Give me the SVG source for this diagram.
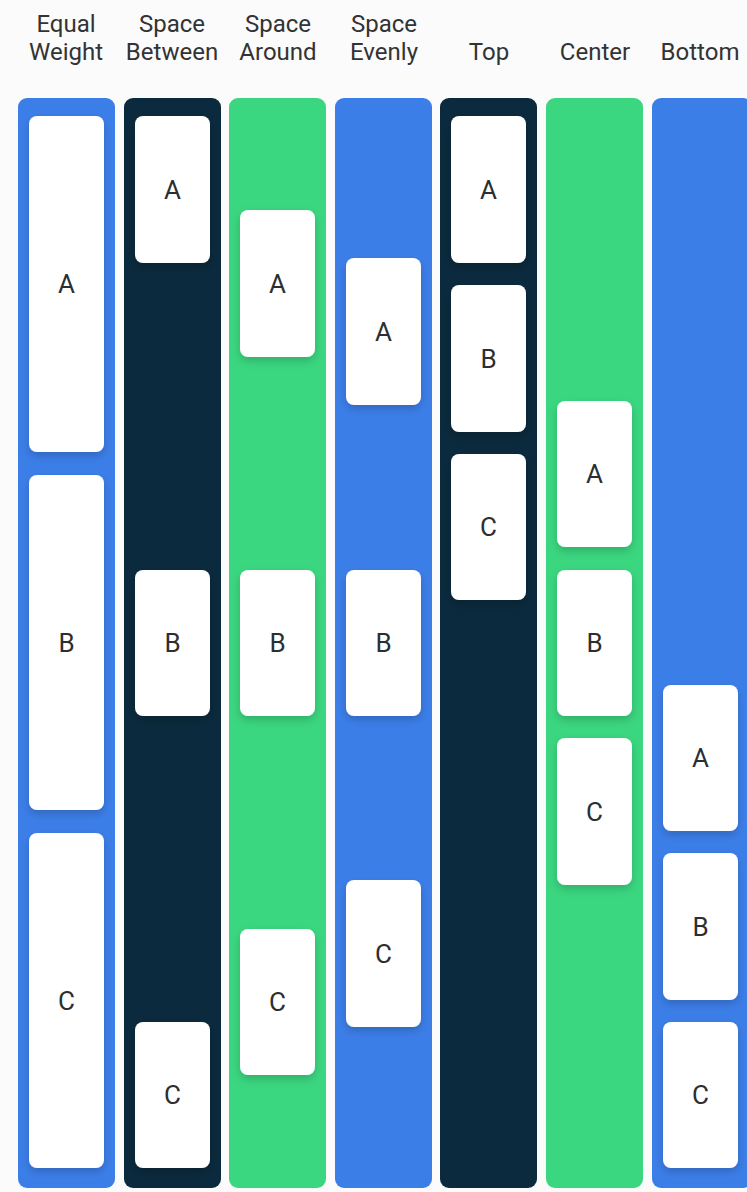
<svg xmlns="http://www.w3.org/2000/svg" width="747" height="1192" viewBox="0 0 747 1192">
<defs>
<style>
.hd{font-family:Roboto,"Liberation Sans",sans-serif;font-size:24px;fill:#333;text-anchor:middle}
.lb{font-family:Roboto,"Liberation Sans",sans-serif;font-size:26px;fill:#2a2f33;text-anchor:middle}
.card{fill:#ffffff}
.blue{fill:#3c7ee8}
.navy{fill:#0b2a3d}
.green{fill:#3bd680}
</style>
<filter id="sh" x="-30%" y="-20%" width="160%" height="150%">
<feDropShadow dx="0" dy="4" stdDeviation="4" flood-color="#000" flood-opacity="0.18"/>
</filter>
</defs>
<rect width="747" height="1192" fill="#fbfbfb"/>
<g id="headers">
<text class="hd" x="66" y="32">Equal</text><text class="hd" x="66" y="60">Weight</text>
<text class="hd" x="172" y="32">Space</text><text class="hd" x="172" y="60">Between</text>
<text class="hd" x="278" y="32">Space</text><text class="hd" x="278" y="60">Around</text>
<text class="hd" x="384" y="32">Space</text><text class="hd" x="384" y="60">Evenly</text>
<text class="hd" x="489" y="60">Top</text>
<text class="hd" x="595" y="60">Center</text>
<text class="hd" x="700" y="60">Bottom</text>
</g>
<g id="col-equal">
<rect class="blue" x="18" y="98" width="97" height="1090" rx="9"/>
<g filter="url(#sh)">
<rect class="card" x="29" y="116" width="75" height="336" rx="8"/>
<rect class="card" x="29" y="475" width="75" height="335" rx="8"/>
<rect class="card" x="29" y="833" width="75" height="335" rx="8"/>
</g>
<text class="lb" x="66.5" y="293">A</text><text class="lb" x="66.5" y="652">B</text><text class="lb" x="66.5" y="1010">C</text>
</g>
<g id="col-between">
<rect class="navy" x="124" y="98" width="97" height="1090" rx="9"/>
<g filter="url(#sh)">
<rect class="card" x="135" y="116" width="75" height="147" rx="8"/>
<rect class="card" x="135" y="570" width="75" height="146" rx="8"/>
<rect class="card" x="135" y="1022" width="75" height="146" rx="8"/>
</g>
<text class="lb" x="172.5" y="199">A</text><text class="lb" x="172.5" y="652">B</text><text class="lb" x="172.5" y="1104">C</text>
</g>
<g id="col-around">
<rect class="green" x="229" y="98" width="97" height="1090" rx="9"/>
<g filter="url(#sh)">
<rect class="card" x="240" y="210" width="75" height="147" rx="8"/>
<rect class="card" x="240" y="570" width="75" height="146" rx="8"/>
<rect class="card" x="240" y="929" width="75" height="146" rx="8"/>
</g>
<text class="lb" x="277.5" y="293">A</text><text class="lb" x="277.5" y="652">B</text><text class="lb" x="277.5" y="1011">C</text>
</g>
<g id="col-evenly">
<rect class="blue" x="335" y="98" width="97" height="1090" rx="9"/>
<g filter="url(#sh)">
<rect class="card" x="346" y="258" width="75" height="147" rx="8"/>
<rect class="card" x="346" y="570" width="75" height="146" rx="8"/>
<rect class="card" x="346" y="880" width="75" height="147" rx="8"/>
</g>
<text class="lb" x="383.5" y="341">A</text><text class="lb" x="383.5" y="652">B</text><text class="lb" x="383.5" y="963">C</text>
</g>
<g id="col-top">
<rect class="navy" x="440" y="98" width="97" height="1090" rx="9"/>
<g filter="url(#sh)">
<rect class="card" x="451" y="116" width="75" height="147" rx="8"/>
<rect class="card" x="451" y="285" width="75" height="147" rx="8"/>
<rect class="card" x="451" y="454" width="75" height="146" rx="8"/>
</g>
<text class="lb" x="488.5" y="199">A</text><text class="lb" x="488.5" y="368">B</text><text class="lb" x="488.5" y="536">C</text>
</g>
<g id="col-center">
<rect class="green" x="546" y="98" width="97" height="1090" rx="9"/>
<g filter="url(#sh)">
<rect class="card" x="557" y="401" width="75" height="146" rx="8"/>
<rect class="card" x="557" y="570" width="75" height="146" rx="8"/>
<rect class="card" x="557" y="738" width="75" height="147" rx="8"/>
</g>
<text class="lb" x="594.5" y="483">A</text><text class="lb" x="594.5" y="652">B</text><text class="lb" x="594.5" y="821">C</text>
</g>
<g id="col-bottom">
<rect class="blue" x="652" y="98" width="100" height="1090" rx="9"/>
<g filter="url(#sh)">
<rect class="card" x="663" y="685" width="75" height="146" rx="8"/>
<rect class="card" x="663" y="853" width="75" height="147" rx="8"/>
<rect class="card" x="663" y="1022" width="75" height="146" rx="8"/>
</g>
<text class="lb" x="700.5" y="767">A</text><text class="lb" x="700.5" y="936">B</text><text class="lb" x="700.5" y="1104">C</text>
</g>
<g id="connectors"/>
</svg>
